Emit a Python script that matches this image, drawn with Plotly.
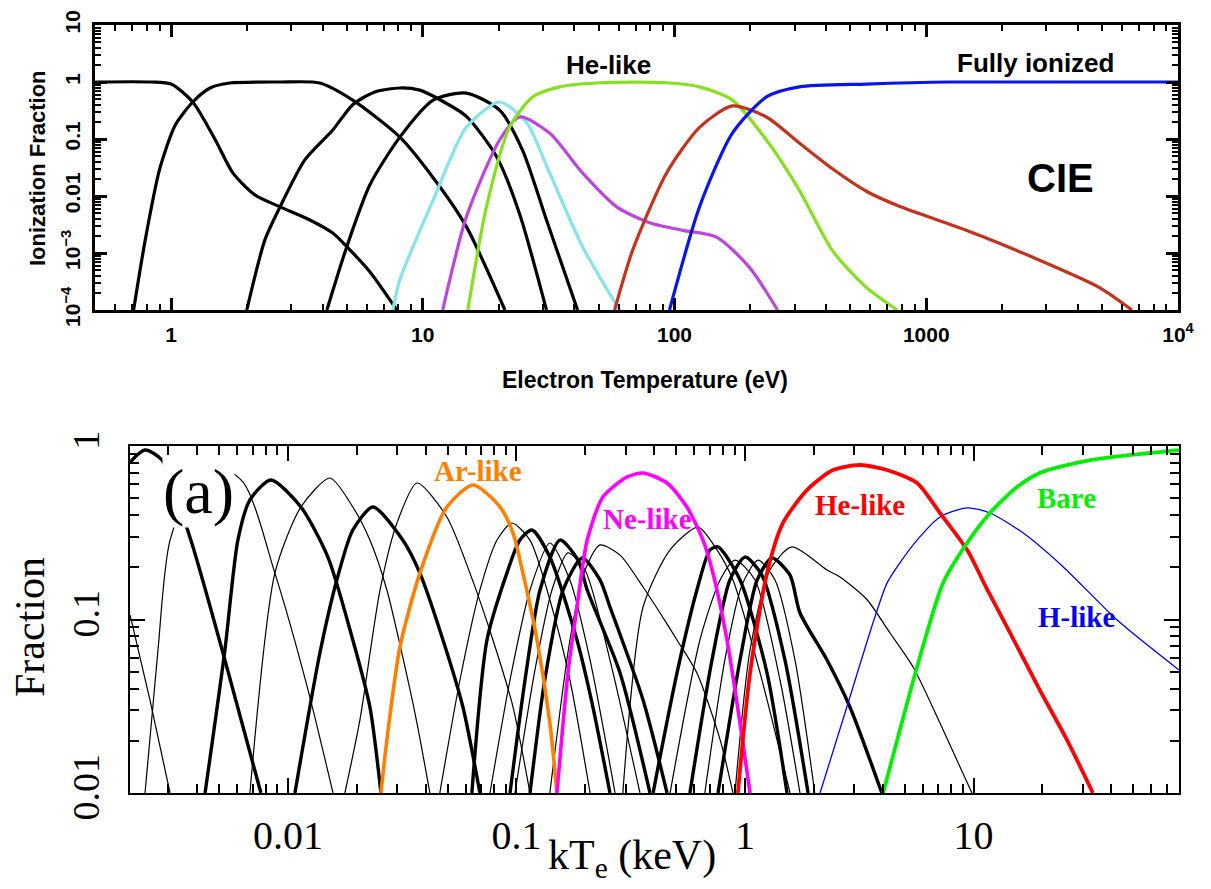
import plotly.graph_objects as go

# ---------------- TOP PANEL DATA (Electron temperature in eV, ionization fraction) -------------
top_T1_eV = [0.5, 0.83, 1.0, 1.22, 1.50, 1.76, 2.15, 2.71, 3.56, 4.39, 4.99, 6.16, 7.89]
top_T1_f = [1.0, 1.0, 0.92, 0.446, 0.096, 0.0254, 0.0105, 0.00645, 0.0038, 0.00224, 0.00129, 4.7e-4, 1e-4]
top_T2_eV = [0.71, 0.79, 0.90, 1.04, 1.22, 1.43, 1.71, 2.71, 3.90, 5.27, 8.11, 11.4, 14.9, 21.2]
top_T2_f = [1e-4, 0.0017, 0.029, 0.176, 0.446, 0.785, 0.96, 1.0, 0.96, 0.48, 0.108, 0.0169, 0.0029, 1e-4]
top_T3_eV = [2.0, 2.36, 2.71, 3.40, 4.39, 5.27, 6.45, 8.11, 9.73, 11.4, 14.9, 19.7, 24.3, 31.0]
top_T3_f = [1e-4, 0.0017, 0.00645, 0.043, 0.144, 0.40, 0.67, 0.785, 0.72, 0.52, 0.25, 0.048, 0.0047, 1e-4]
top_T4_eV = [4.16, 4.99, 6.16, 8.11, 11.0, 14.9, 20.2, 24.9, 31.0, 41.2]
top_T4_f = [1e-4, 0.00129, 0.0156, 0.108, 0.48, 0.64, 0.32, 0.064, 0.0038, 1e-4]
top_cyan_eV = [7.6, 8.11, 11.0, 14.9, 20.2, 25.9, 31.9, 43.1, 60.5]
top_cyan_f = [1e-4, 3.4e-4, 0.0085, 0.16, 0.446, 0.19, 0.0254, 0.00129, 1e-4]
top_mag_eV = [12.0, 14.9, 20.2, 24.3, 31.9, 43.1, 58.9, 79.6, 107.7, 146.8, 198.5, 256.6]
top_mag_f = [1e-4, 0.0043, 0.096, 0.243, 0.127, 0.0254, 0.00645, 0.0034, 0.0025, 0.0019, 5.6e-4, 1e-4]
top_he_eV = [15.1, 17.9, 22.1, 27.3, 35.0, 50.4, 93.0, 125.7, 169.8, 231.8, 313, 424, 578, 767]
top_he_f = [1e-4, 0.00645, 0.16, 0.546, 0.82, 0.97, 0.97, 0.82, 0.48, 0.096, 0.0127, 0.0011, 2.5e-4, 1e-4]
top_h_eV = [57.8, 68.1, 93.0, 125.7, 169.8, 231.8, 313, 424, 580, 782, 1442, 2636, 4860, 6560]
top_h_f = [1e-4, 0.0011, 0.0254, 0.16, 0.38, 0.243, 0.085, 0.03, 0.012, 0.0066, 0.0025, 8.5e-4, 2.5e-4, 1e-4]
top_bare_eV = [95.5, 125.7, 169.8, 231.8, 313, 578, 1234, 10000]
top_bare_f = [1e-4, 0.00645, 0.127, 0.546, 0.82, 0.92, 1.0, 1.0]

top_xtick_vals = [1, 10, 100, 1000, 10000]
top_xtick_text = ["1", "10", "100", "1000", "10<sup>4</sup>"]
top_ytick_vals = [1e-4, 1e-3, 0.01, 0.1, 1, 10]
top_ytick_text = ["10<sup>\u22124</sup>", "10<sup>\u22123</sup>", "0.01", "0.1", "1", "10"]

# ---------------- BOTTOM PANEL DATA (kTe in keV, fraction) ----------------
b01_kT = [0.00204, 0.00249, 0.00305]
b01_f = [0.106, 0.0344, 0.01]
b02_kT = [0.00204, 0.00237, 0.00281, 0.00376, 0.0053, 0.00762]
b02_f = [0.809, 0.948, 0.83, 0.287, 0.0584, 0.01]
b03_kT = [0.00237, 0.0027, 0.00305, 0.00434, 0.00636, 0.00877, 0.01225, 0.01575]
b03_f = [0.01, 0.0667, 0.287, 0.809, 0.62, 0.185, 0.0392, 0.01]
b04_kT = [0.00434, 0.0053, 0.00604, 0.00682, 0.00843, 0.0114, 0.01496, 0.01923, 0.02284, 0.02553]
b04_f = [0.01, 0.0667, 0.287, 0.489, 0.637, 0.445, 0.229, 0.0762, 0.0313, 0.01]
b05_kT = [0.00682, 0.00877, 0.0114, 0.01528, 0.01923, 0.02284, 0.0271, 0.0318, 0.0367, 0.0418]
b05_f = [0.01, 0.185, 0.445, 0.654, 0.445, 0.287, 0.148, 0.0608, 0.0253, 0.01]
b06_kT = [0.01073, 0.0138, 0.01637, 0.01923, 0.02355, 0.0318, 0.0378, 0.0477, 0.0583, 0.0692]
b06_f = [0.01, 0.0641, 0.169, 0.328, 0.445, 0.287, 0.185, 0.0762, 0.0313, 0.01]
b07_kT = [0.01775, 0.02065, 0.0253, 0.030, 0.0367, 0.0496, 0.0626, 0.0789, 0.0966, 0.1146]
b07_f = [0.01, 0.0263, 0.148, 0.36, 0.612, 0.39, 0.185, 0.0762, 0.0313, 0.01]
ar_kT = [0.02553, 0.0271, 0.0309, 0.0378, 0.0496, 0.0646, 0.0848, 0.0966, 0.1067, 0.123, 0.140, 0.1504]
ar_f = [0.01, 0.0202, 0.0694, 0.185, 0.445, 0.596, 0.445, 0.315, 0.185, 0.0762, 0.0253, 0.01]
b08_kT = [0.0462, 0.0566, 0.0692, 0.0822, 0.0955, 0.1146, 0.140, 0.1714, 0.21]
b08_f = [0.01, 0.0448, 0.148, 0.287, 0.36, 0.287, 0.13, 0.0448, 0.01]
b09_kT = [0.0638, 0.0743, 0.0908, 0.1035, 0.1169, 0.140, 0.184, 0.216, 0.2566]
b09_f = [0.01, 0.0762, 0.185, 0.287, 0.328, 0.229, 0.0762, 0.0313, 0.01]
b10_kT = [0.0766, 0.0937, 0.1146, 0.140, 0.1714, 0.21, 0.27]
b10_f = [0.01, 0.0448, 0.148, 0.276, 0.169, 0.0584, 0.01]
b11_kT = [0.0937, 0.109, 0.1268, 0.155, 0.186, 0.204, 0.284, 0.384]
b11_f = [0.01, 0.0448, 0.148, 0.287, 0.22, 0.148, 0.0492, 0.01]
b12_kT = [0.0985, 0.1205, 0.143, 0.168, 0.1995, 0.2566, 0.347]
b12_f = [0.01, 0.0512, 0.148, 0.242, 0.193, 0.0584, 0.01]
b13_kT = [0.1146, 0.133, 0.16, 0.194, 0.232, 0.2566, 0.358, 0.456]
b13_f = [0.01, 0.0448, 0.148, 0.226, 0.169, 0.118, 0.0344, 0.01]
b14_kT = [0.14, 0.1714, 0.1995, 0.232, 0.284, 0.358, 0.425, 0.504, 0.616, 0.778, 0.886]
b14_f = [0.01, 0.0762, 0.193, 0.269, 0.235, 0.154, 0.109, 0.0762, 0.0492, 0.0203, 0.01]
ne_kT = [0.1504, 0.168, 0.184, 0.204, 0.239, 0.305, 0.358, 0.456, 0.557, 0.655, 0.724, 0.834, 0.951, 1.052]
ne_f = [0.01, 0.0492, 0.118, 0.287, 0.508, 0.663, 0.699, 0.612, 0.445, 0.287, 0.185, 0.0762, 0.0253, 0.01]
b15_kT = [0.292, 0.358, 0.47, 0.623, 0.754, 0.886, 1.164, 1.574]
b15_f = [0.01, 0.118, 0.252, 0.341, 0.252, 0.169, 0.0492, 0.01]
b16_kT = [0.396, 0.504, 0.616, 0.703, 0.762, 0.951, 1.248, 1.527]
b16_f = [0.01, 0.0492, 0.148, 0.252, 0.262, 0.169, 0.0492, 0.01]
b17_kT = [0.47, 0.635, 0.778, 0.904, 1.106, 1.423, 1.74]
b17_f = [0.01, 0.0762, 0.169, 0.22, 0.169, 0.0448, 0.01]
b18_kT = [0.574, 0.717, 0.859, 1.0, 1.186, 1.496, 1.888]
b18_f = [0.01, 0.0584, 0.169, 0.229, 0.18, 0.0584, 0.01]
b19_kT = [0.667, 0.816, 0.97, 1.14, 1.353, 1.655, 2.02]
b19_f = [0.01, 0.0584, 0.158, 0.22, 0.169, 0.0584, 0.01]
b20_kT = [0.762, 0.951, 1.13, 1.313, 1.574, 1.74, 2.285, 2.878, 3.97]
b20_f = [0.01, 0.0584, 0.169, 0.226, 0.18, 0.109, 0.0584, 0.0313, 0.01]
b21_kT = [0.904, 1.052, 1.284, 1.604, 2.285, 2.604, 3.42, 4.31, 5.44, 7.13, 9.84]
b21_f = [0.01, 0.0667, 0.193, 0.262, 0.193, 0.176, 0.13, 0.0836, 0.0532, 0.0253, 0.01]
he_kT = [0.931, 1.052, 1.248, 1.466, 1.866, 2.426, 3.19, 4.18, 5.66, 7.13, 9.37, 11.5, 14.0, 19.5, 25.6, 33.3]
he_f = [0.01, 0.0492, 0.185, 0.36, 0.557, 0.727, 0.777, 0.727, 0.612, 0.411, 0.252, 0.148, 0.0906, 0.0392, 0.0203, 0.01]
hlike_kT = [2.13, 2.79, 3.63, 4.18, 4.76, 5.66, 7.13, 9.37, 11.8, 16.5, 24.7, 42.5, 79.2]
hlike_f = [0.01, 0.0313, 0.0955, 0.162, 0.212, 0.287, 0.39, 0.44, 0.411, 0.315, 0.201, 0.0993, 0.0512]
bare_kT = [4.02, 4.31, 5.66, 7.35, 9.37, 11.8, 15.5, 19.5, 32.4, 79.2]
bare_f = [0.01, 0.0141, 0.0532, 0.162, 0.276, 0.411, 0.58, 0.699, 0.83, 0.948]

bot_xtick_vals = [0.01, 0.1, 1, 10]
bot_xtick_text = ["0.01", "0.1", "1", "10"]
bot_ytick_vals = [0.01, 0.1, 1]
bot_ytick_text = ["0.01", "0.1", "1"]

# ---------------- FIGURE ----------------
fig = go.Figure()

def add_line(x, y, color, width, xa, ya):
    fig.add_trace(go.Scatter(x=x, y=y, mode="lines", xaxis=xa, yaxis=ya,
                             line=dict(color=color, width=width, shape="spline", smoothing=0.7),
                             showlegend=False, hoverinfo="skip"))

top_series = [
    (top_T1_eV, top_T1_f, "black"),
    (top_T2_eV, top_T2_f, "black"),
    (top_T3_eV, top_T3_f, "black"),
    (top_T4_eV, top_T4_f, "black"),
    (top_cyan_eV, top_cyan_f, "#86E3EC"),
    (top_mag_eV, top_mag_f, "#BC45DD"),
    (top_he_eV, top_he_f, "#86E020"),
    (top_h_eV, top_h_f, "#C2321C"),
    (top_bare_eV, top_bare_f, "#0A16E8"),
]
for x, y, c in top_series:
    add_line(x, y, c, 3.2, "x", "y")

THIN, THICK = 1.2, 3.4
bottom_black = [
    (b01_kT, b01_f, THIN), (b02_kT, b02_f, THICK), (b03_kT, b03_f, THIN), (b04_kT, b04_f, THICK),
    (b05_kT, b05_f, THIN), (b06_kT, b06_f, THICK), (b07_kT, b07_f, THIN), (b08_kT, b08_f, THIN),
    (b09_kT, b09_f, THICK), (b10_kT, b10_f, THIN), (b11_kT, b11_f, THICK), (b12_kT, b12_f, THIN),
    (b13_kT, b13_f, THICK), (b14_kT, b14_f, THIN), (b15_kT, b15_f, THIN), (b16_kT, b16_f, THICK),
    (b17_kT, b17_f, THIN), (b18_kT, b18_f, THICK), (b19_kT, b19_f, THIN), (b20_kT, b20_f, THICK),
    (b21_kT, b21_f, THIN),
]
for x, y, w in bottom_black:
    add_line(x, y, "black", w, "x2", "y2")

add_line(ar_kT, ar_f, "#FF8000", 3.6, "x2", "y2")
add_line(ne_kT, ne_f, "#FF00FF", 3.6, "x2", "y2")
add_line(hlike_kT, hlike_f, "#0000FF", 1.3, "x2", "y2")
add_line(he_kT, he_f, "#FF0000", 3.8, "x2", "y2")
add_line(bare_kT, bare_f, "#00EE00", 3.8, "x2", "y2")

W, H = 1211, 889

def minor_vals(e0, e1):
    return [k * 10 ** e for e in range(e0, e1 + 1) for k in range(2, 10)]

sans = "Liberation Sans"
serif = "Liberation Serif"

common_axis = dict(type="log", showgrid=False, zeroline=False, showline=True, linecolor="black",
                   mirror="ticks", ticks="inside", tickcolor="black", tickmode="array",
                   automargin=False)

fig.update_layout(
    width=W, height=H, margin=dict(l=0, r=0, t=0, b=0, pad=0, autoexpand=False),
    showlegend=False,
    paper_bgcolor="white", plot_bgcolor="white",
    xaxis=dict(**common_axis, domain=[95 / W, 1178 / W], anchor="y", range=[-0.302, 4],
               linewidth=3, ticklen=12, tickwidth=2.5,
               tickvals=top_xtick_vals, ticktext=top_xtick_text,
               tickfont=dict(family=sans, size=21, color="black", weight="bold"),
               ticklabelstandoff=4,
               minor=dict(tickmode="array", tickvals=minor_vals(-1, 3), ticks="inside",
                          ticklen=6, tickwidth=2, tickcolor="black")),
    yaxis=dict(**common_axis, domain=[1 - 310 / H, 1 - 25 / H], anchor="x", range=[-4, 1],
               linewidth=3, ticklen=12, tickwidth=2.5,
               tickvals=top_ytick_vals, ticktext=top_ytick_text, tickangle=-90,
               tickfont=dict(family=sans, size=21, color="black", weight="bold"),
               ticklabelstandoff=4,
               minor=dict(tickmode="array", tickvals=minor_vals(-4, 0), ticks="inside",
                          ticklen=6, tickwidth=2, tickcolor="black")),
    xaxis2=dict(**common_axis, domain=[130 / W, 1179 / W], anchor="y2", range=[-2.691, 1.899],
                linewidth=2, ticklen=15, tickwidth=2,
                tickvals=bot_xtick_vals, ticktext=bot_xtick_text,
                tickfont=dict(family=serif, size=40, color="black"),
                ticklabelstandoff=6,
                minor=dict(tickmode="array", tickvals=minor_vals(-3, 1), ticks="inside",
                           ticklen=9, tickwidth=1.5, tickcolor="black")),
    yaxis2=dict(**common_axis, domain=[1 - 793 / H, 1 - 446 / H], anchor="x2", range=[-2, 0],
                linewidth=2, ticklen=15, tickwidth=2,
                tickvals=bot_ytick_vals, ticktext=bot_ytick_text, tickangle=-90,
                tickfont=dict(family=serif, size=38, color="black"),
                ticklabelstandoff=14,
                minor=dict(tickmode="array", tickvals=minor_vals(-2, -1), ticks="inside",
                           ticklen=9, tickwidth=1.5, tickcolor="black")),
)

def ann(text, px, py, size, color="black", family=sans, bold=True, angle=0, bg=None):
    fig.add_annotation(text=text, x=px / W, y=1 - py / H, xref="paper", yref="paper",
                       xanchor="center", yanchor="middle", showarrow=False, textangle=angle,
                       font=dict(family=family, size=size, color=color,
                                 weight="bold" if bold else "normal"),
                       bgcolor=bg, borderpad=0)

# top annotations
ann("He-like", 608, 65, 26)
ann("Fully ionized", 1035, 63, 26)
ann("CIE", 1060, 178, 40)
ann("Ionization Fraction", 37, 168, 22, angle=-90)
ann("Electron Temperature (eV)", 645, 380, 23)

# bottom annotations
ann("(a)", 198, 492, 64, family=serif, bold=False, bg="white")
ann("Ar-like", 478, 471, 29, color="#FF8000", family=serif)
ann("Ne-like", 647, 519, 29, color="#FF00FF", family=serif)
ann("He-like", 860, 505, 29, color="#FF0000", family=serif)
ann("Bare", 1066, 498, 29, color="#00EE00", family=serif)
ann("H-like", 1076, 617, 29, color="#0000FF", family=serif)
ann("Fraction", 30, 627, 42, family=serif, bold=False, angle=-90)
ann("kT<sub>e</sub> (keV)", 632, 858, 42, family=serif, bold=False)

fig.write_html("out.html",
               post_script="document.body.style.margin='0';document.body.style.overflow='hidden';")
